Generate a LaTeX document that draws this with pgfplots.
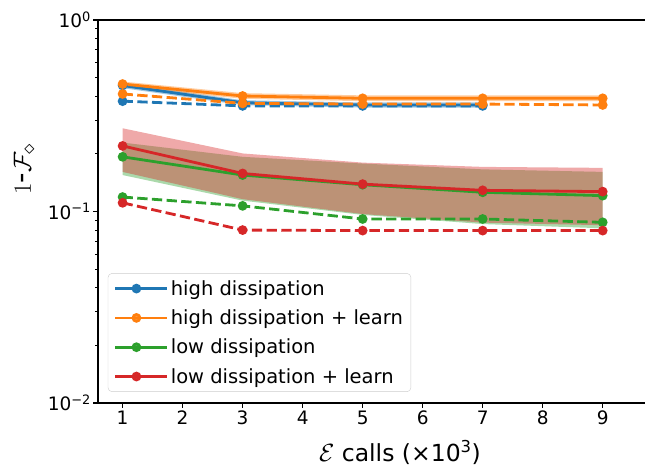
\documentclass[border=0pt]{standalone}
\usepackage{pgfplots}
\pgfplotsset{compat=1.18}
\usepackage{fontspec}
\setmainfont{DejaVu Sans}
\definecolor{tabblue}{HTML}{1F77B4}
\definecolor{taborange}{HTML}{FF7F0E}
\definecolor{tabgreen}{HTML}{2CA02C}
\definecolor{tabred}{HTML}{D62728}
\begin{document}
\begin{tikzpicture}
\begin{axis}[
  scale only axis, width=547pt, height=383pt,
  xmin=0.59, xmax=9.705, ymode=log, ymin=0.01, ymax=1,
  axis x line*=box, axis y line*=left,
  xtick pos=left, ytick pos=left,
  xtick={1,2,3,4,5,6,7,8,9},
  ytick={0.01,0.1,1},
  yticklabels={10\textsuperscript{−2},10\textsuperscript{−1},10\textsuperscript{0}},
  /pgf/number format/assume math mode=true,
  tick align=outside,
  major tick length=4.9pt, minor tick length=2.8pt,
  every tick/.style={black, line width=1.1pt},
  minor tick style={line width=0.8pt},
  axis line style={line width=1.1pt, black},
  tick label style={font=\fontsize{18.5}{20}\selectfont},
  yticklabel style={inner sep=2pt},
  xticklabel style={inner sep=3pt},
  xlabel={$\mathcal{E}$ calls (×10\textsuperscript{3})},
  ylabel={$1$-$\mathcal{F}_\diamond$},
  xlabel style={font=\fontsize{23.5}{25}\selectfont, at={(axis description cs:0.552,-0.129)}, anchor=center},
  ylabel style={font=\fontsize{29}{31}\selectfont, at={(axis description cs:-0.135,0.61)}, anchor=center},
  legend style={at={(axis description cs:0.018,0.029)}, anchor=south west,
    draw=black!20, rounded corners=4pt, fill=white, fill opacity=0.8, text opacity=1,
    font=\fontsize{19.5}{22}\selectfont, row sep=9pt, inner xsep=6pt, inner ysep=5pt},
  legend cell align=left,
  legend image code/.code={\draw[mark repeat=2,mark phase=2] plot coordinates {(0pt,0pt) (21pt,0pt) (42pt,0pt)};\path (0pt,0pt) -- (52pt,0pt);},
  every axis plot/.append style={line width=2.8pt, mark size=3.4pt},
]
% bands
\addplot[forget plot, draw=none, fill=tabblue, fill opacity=0.4, mark=none] coordinates {
 (1,0.469) (3,0.381) (5,0.371) (7,0.371) (7,0.349) (5,0.349) (3,0.359) (1,0.441)} -- cycle;
\addplot[forget plot, draw=none, fill=taborange, fill opacity=0.4, mark=none] coordinates {
 (1,0.477) (3,0.415) (5,0.404) (7,0.404) (9,0.404) (9,0.377) (7,0.377) (5,0.377) (3,0.388) (1,0.449)} -- cycle;
\addplot[forget plot, draw=none, fill=tabgreen, fill opacity=0.4, mark=none] coordinates {
 (1,0.229) (3,0.193) (5,0.178) (7,0.166) (9,0.161) (9,0.0817) (7,0.086) (5,0.096) (3,0.114) (1,0.155)} -- cycle;
\addplot[forget plot, draw=none, fill=tabred, fill opacity=0.4, mark=none] coordinates {
 (1,0.272) (3,0.201) (5,0.180) (7,0.171) (9,0.169) (9,0.0848) (7,0.0875) (5,0.097) (3,0.116) (1,0.161)} -- cycle;
% solid lines
\addplot[tabblue, mark=*] coordinates {(1,0.455) (3,0.370) (5,0.360) (7,0.360)};
\addlegendentry{high dissipation}
\addplot[taborange, mark=*] coordinates {(1,0.463) (3,0.401) (5,0.390) (7,0.390) (9,0.390)};
\addlegendentry{high dissipation + learn}
\addplot[tabgreen, mark=*] coordinates {(1,0.193) (3,0.155) (5,0.138) (7,0.126) (9,0.121)};
\addlegendentry{low dissipation}
\addplot[tabred, mark=*] coordinates {(1,0.220) (3,0.158) (5,0.139) (7,0.129) (9,0.127)};
\addlegendentry{low dissipation + learn}
% dashed lines
\addplot[forget plot, tabblue, mark=*, dash pattern=on 10.3pt off 4.4pt, mark options={solid}] coordinates {(1,0.377) (3,0.356) (5,0.356) (7,0.356)};
\addplot[forget plot, taborange, mark=*, dash pattern=on 10.3pt off 4.4pt, mark options={solid}] coordinates {(1,0.411) (3,0.367) (5,0.364) (7,0.364) (9,0.360)};
\addplot[forget plot, tabgreen, mark=*, dash pattern=on 10.3pt off 4.4pt, mark options={solid}] coordinates {(1,0.119) (3,0.107) (5,0.0914) (7,0.0914) (9,0.0878)};
\addplot[forget plot, tabred, mark=*, dash pattern=on 10.3pt off 4.4pt, mark options={solid}] coordinates {(1,0.111) (3,0.080) (5,0.0795) (7,0.0795) (9,0.0795)};
\end{axis}
\pgfresetboundingbox
\path[use as bounding box] ([xshift=-98pt,yshift=-65pt]current axis.south west) rectangle ([yshift=20pt]current axis.north east);
\end{tikzpicture}
\end{document}
